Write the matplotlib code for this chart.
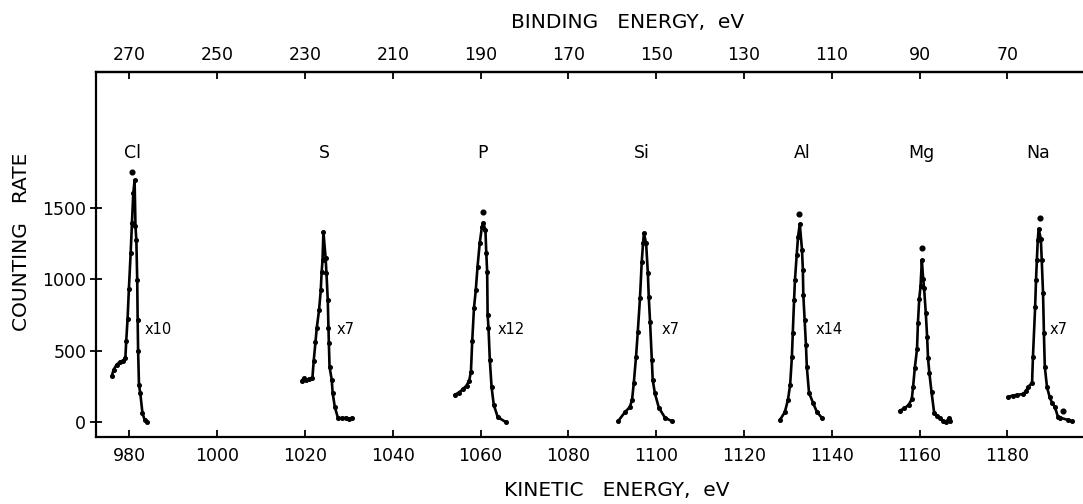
import matplotlib
matplotlib.use("Agg")
import matplotlib.pyplot as plt

# Photoelectron 2p lines, kinetic energy (eV) vs counting rate
cl_ke = [976.0, 976.4, 977.1, 977.8, 978.6, 979.1, 979.3, 979.6, 979.9, 980.3, 980.6, 980.9,
         981.2, 981.4, 981.6, 981.8, 981.9, 982.0, 982.2, 982.5, 983.0, 983.5, 984.0]
cl_cnt = [320, 365, 400, 420, 430, 450, 570, 720, 930, 1180, 1390, 1600,
          1690, 1370, 1270, 990, 710, 500, 260, 200, 60, 15, 0]

s_ke = [1019.3, 1019.7, 1020.3, 1021.0, 1021.7, 1022.0, 1022.4, 1022.7, 1023.2, 1023.6, 1023.8,
        1024.0, 1024.2, 1024.7, 1024.9, 1025.2, 1025.35, 1025.45, 1025.6, 1026.1, 1026.3, 1026.8,
        1027.5, 1028.5, 1029.3, 1030.0, 1030.7]
s_cnt = [290, 305, 295, 300, 310, 430, 560, 660, 780, 920, 1050,
         1130, 1330, 1150, 1040, 850, 660, 550, 385, 295, 205, 105,
         30, 25, 30, 20, 30]

p_ke = [1054.1, 1055.0, 1056.0, 1056.8, 1057.4, 1057.8, 1058.1, 1058.5, 1058.9, 1059.3, 1059.8,
        1060.3, 1060.6, 1061.1, 1061.3, 1061.5, 1061.6, 1061.8, 1062.1, 1062.5, 1063.0, 1063.9, 1065.7]
p_cnt = [190, 205, 230, 255, 290, 350, 570, 800, 920, 1085, 1250,
         1365, 1390, 1345, 1180, 1050, 750, 660, 435, 245, 120, 35, 0]

si_ke = [1091.3, 1092.9, 1094.0, 1094.5, 1094.9, 1095.4, 1095.8, 1096.3, 1096.7, 1097.0, 1097.2,
         1097.7, 1098.1, 1098.3, 1098.6, 1099.0, 1099.2, 1099.7, 1100.6, 1102.0, 1103.6]
si_cnt = [5, 70, 105, 155, 275, 455, 630, 865, 1120, 1250, 1320,
          1250, 1040, 875, 700, 435, 295, 200, 100, 30, 5]

al_ke = [1128.2, 1129.3, 1130.0, 1130.5, 1130.9, 1131.1, 1131.4, 1131.6, 1132.0, 1132.3, 1132.7,
         1133.2, 1133.4, 1133.5, 1133.8, 1134.1, 1134.3, 1134.8, 1135.7, 1136.6, 1137.7]
al_cnt = [15, 70, 155, 260, 455, 620, 855, 995, 1170, 1295, 1385,
          1205, 1065, 890, 715, 540, 385, 205, 135, 70, 30]

mg_ke = [1155.5, 1156.5, 1157.5, 1158.2, 1158.5, 1158.9, 1159.4, 1159.6, 1159.9, 1160.2, 1160.5,
         1160.8, 1161.0, 1161.4, 1161.7, 1161.9, 1162.2, 1162.7, 1163.3, 1164.0, 1164.6, 1165.4,
         1166.0, 1166.6, 1167.0]
mg_cnt = [80, 95, 120, 160, 245, 380, 510, 690, 860, 950, 1130,
          1000, 940, 760, 595, 448, 345, 210, 65, 45, 30, 5,
          0, 25, 10]

na_ke = [1180.1, 1181.2, 1182.2, 1183.5, 1184.2, 1184.7, 1185.6, 1185.8, 1186.3, 1186.5, 1186.7,
         1186.9, 1187.1, 1187.6, 1187.8, 1188.1, 1188.3, 1188.5, 1189.0, 1189.6, 1190.2, 1190.8,
         1191.5, 1192.0, 1193.7, 1194.6]
na_cnt = [175, 185, 190, 195, 215, 245, 275, 455, 805, 995, 1135,
          1275, 1350, 1280, 1135, 900, 620, 385, 245, 175, 130, 105,
          35, 30, 15, 5]

# single readings plotted above the peaks
apex_ke = [980.6, 1060.5, 1132.5, 1160.5, 1187.4, 1192.6]
apex_cnt = [1750, 1470, 1455, 1217, 1427, 75]

elements = ["Cl", "S", "P", "Si", "Al", "Mg", "Na"]
element_ke = [980.8, 1024.5, 1060.5, 1096.7, 1133.2, 1160.5, 1186.9]

scale_labels = ["x10", "x7", "x12", "x7", "x14", "x7"]
scale_ke = [983.5, 1027.3, 1063.9, 1101.3, 1136.4, 1189.5]

ke_ticks = [980, 1000, 1020, 1040, 1060, 1080, 1100, 1120, 1140, 1160, 1180]
be_ticks = [270, 250, 230, 210, 190, 170, 150, 130, 110, 90, 70]
count_ticks = [0, 500, 1000, 1500]

plt.rcParams["font.family"] = ["DejaVu Sans"]

fig = plt.figure(figsize=(10.83, 5.04), dpi=100)
ax = fig.add_axes([0.0886, 0.1329, 0.9114, 0.7242])

series = [(cl_ke, cl_cnt), (s_ke, s_cnt), (p_ke, p_cnt), (si_ke, si_cnt),
          (al_ke, al_cnt), (mg_ke, mg_cnt), (na_ke, na_cnt)]
for ke, cnt in series:
    ax.plot(ke, cnt, color="black", lw=1.9, marker="o", ms=2.6,
            solid_joinstyle="round", solid_capstyle="round")
ax.plot(apex_ke, apex_cnt, ls="none", marker="o", ms=3.4, color="black")

for name, x in zip(elements, element_ke):
    ax.text(x, 1880, name, ha="center", va="center", fontsize=12.5)
for lab, x in zip(scale_labels, scale_ke):
    ax.text(x, 650, lab, ha="left", va="center", fontsize=10.5)

ax.set_xlim(972.4, 1197.2)
ax.set_ylim(-105, 2448)
ax.set_xticks(ke_ticks)
ax.set_yticks(count_ticks)
ax.tick_params(direction="in", length=5, width=1.3, labelsize=12.5, pad=7)
ax.tick_params(axis="y", direction="inout", length=8, pad=3)
for side in ("left", "bottom", "top"):
    ax.spines[side].set_linewidth(1.6)
ax.spines["right"].set_visible(False)

top = ax.secondary_xaxis("top", functions=(lambda k: 1250 - k, lambda b: 1250 - b))
top.set_xticks(be_ticks)
top.tick_params(direction="in", length=5, width=1.3, labelsize=12.5, pad=6)
top.spines["top"].set_linewidth(1.6)

# axis titles
fig.text(628 / 1083, 1 - 22 / 504, "BINDING   ENERGY,  eV", ha="center", va="center", fontsize=14.5)
fig.text(617 / 1083, 1 - 491 / 504, "KINETIC   ENERGY,  eV", ha="center", va="center", fontsize=14.5)
fig.text(22 / 1083, 1 - 242 / 504, "COUNTING   RATE", ha="center", va="center",
         rotation=90, fontsize=14.5)

fig.savefig("out.png", dpi=100, facecolor="white")
